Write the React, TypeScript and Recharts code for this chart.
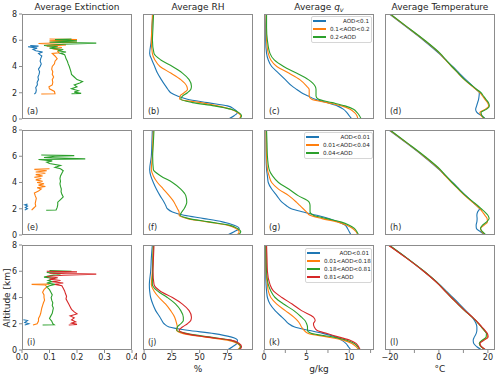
import { Line, LineChart, XAxis, YAxis } from "recharts";

const BLUE = "#1f77b4";
const ORANGE = "#ff7f0e";
const GREEN = "#2ca02c";
const RED = "#d62728";
const SERIES_COLORS = [BLUE, ORANGE, GREEN, RED];
const AXIS = "#8c8c8c";
const INK = "#262626";
const FONT = "'DejaVu Sans', sans-serif";

// altitude grid (km) used by the smooth RH / qv / temperature profiles
const ALT = [0, 0.25, 0.5, 0.75, 1, 1.25, 1.5, 1.75, 2, 2.25, 2.5, 3, 3.5, 4, 4.5, 5, 6, 7, 8];
const ALT_TICKS = [0, 2, 4, 6, 8];

// ---- row 1: AOD<0.1, 0.1<AOD<0.2, 0.2<AOD
const EXT1_BLUE_ALT = [1.9, 2.0, 2.2, 2.4, 2.6, 2.8, 3.0, 3.2, 3.4, 3.6, 3.8, 4.0, 4.2, 4.4, 4.6, 4.8, 4.9, 5.0, 5.1, 5.2, 5.3, 5.4, 5.5, 5.55, 5.6];
const EXT1_BLUE = [0.045, 0.05, 0.052, 0.05, 0.056, 0.055, 0.06, 0.058, 0.062, 0.064, 0.06, 0.066, 0.07, 0.066, 0.068, 0.072, 0.065, 0.06, 0.075, 0.05, 0.04, 0.055, 0.022, 0.06, 0.03];
const EXT1_ORANGE_ALT = [1.9, 1.92, 2.1, 2.3, 2.45, 2.6, 2.8, 3.0, 3.2, 3.4, 3.6, 3.8, 4.0, 4.2, 4.4, 4.6, 4.8, 5.0, 5.05, 5.15, 5.25, 5.35, 5.45, 5.55, 5.65, 5.75, 5.85, 5.95, 6.05, 6.1];
const EXT1_ORANGE = [0.07, 0.12, 0.118, 0.1, 0.098, 0.11, 0.112, 0.11, 0.115, 0.11, 0.112, 0.108, 0.11, 0.118, 0.12, 0.128, 0.12, 0.11, 0.135, 0.13, 0.14, 0.11, 0.145, 0.09, 0.16, 0.06, 0.2, 0.1, 0.2, 0.1];
const EXT1_GREEN_ALT = [1.92, 1.95, 2.05, 2.15, 2.3, 2.45, 2.6, 2.75, 2.85, 3.0, 3.2, 3.4, 3.6, 3.8, 4.0, 4.2, 4.4, 4.6, 4.75, 4.9, 5.0, 5.1, 5.2, 5.3, 5.4, 5.5, 5.6, 5.7, 5.78, 5.85, 5.95, 6.05, 6.1];
const EXT1_GREEN = [0.18, 0.215, 0.19, 0.205, 0.18, 0.2, 0.19, 0.21, 0.22, 0.2, 0.19, 0.18, 0.178, 0.175, 0.172, 0.168, 0.165, 0.16, 0.158, 0.155, 0.14, 0.16, 0.13, 0.15, 0.1, 0.13, 0.08, 0.15, 0.27, 0.1, 0.2, 0.12, 0.18];

const RH1_BLUE = [76, 81, 84, 81, 75, 57, 39, 30, 24, 21.5, 19.4, 15.5, 12, 9.5, 7, 5, 6.5, 7, 8];
const RH1_ORANGE = [85.5, 87, 84, 78, 66, 51, 32, 32.3, 36, 39, 38.4, 33, 24, 14.3, 9.7, 7.4, 6.5, 7, 7.5];
const RH1_GREEN = [86, 87.7, 85, 78, 63, 43.5, 33, 34.5, 39, 42, 42.6, 40.5, 34.5, 25.5, 15, 8.9, 7.5, 8, 8.5];

const QV1_BLUE = [10.3, 10, 9.7, 9.3, 8.6, 7.4, 6, 5.2, 4.4, 3.85, 3.3, 2.5, 1.7, 0.9, 0.5, 0.3, 0.2, 0.2, 0.25];
const QV1_ORANGE = [11, 10.9, 10.6, 10.1, 9.1, 7.4, 5.6, 5.3, 5.3, 5.3, 5.0, 4.2, 2.9, 1.5, 0.8, 0.5, 0.3, 0.25, 0.25];
const QV1_GREEN = [11.4, 11.2, 10.9, 10.5, 9.5, 8.0, 6.4, 6.1, 6.1, 6.1, 6.0, 5.2, 3.8, 2.3, 1.2, 0.7, 0.4, 0.3, 0.3];

const T1_BLUE = [19, 17.5, 15.5, 15, 15.4, 15.8, 16.2, 16.4, 16.5, 15.2, 13.8, 11, 8.3, 5.6, 2.8, 0, -6.3, -13.2, -20.2];
const T1_ORANGE = [18.7, 17.3, 16.7, 19, 20.3, 19.8, 18.8, 17.8, 16.8, 15.2, 13.5, 10.4, 7.8, 5.2, 2.7, 0.3, -6, -13, -20];
const T1_GREEN = [19, 17.6, 17.2, 19.5, 20.6, 20.2, 19.2, 18.2, 17.2, 15.5, 13.8, 10.5, 7.9, 5.3, 2.9, 0.5, -5.8, -12.8, -19.8];

// ---- row 2: AOD<0.01, 0.01<AOD<0.04, 0.04<AOD
const EXT2_BLUE_ALT = [1.9, 2.0, 2.1, 2.2, 2.3, 2.35];
const EXT2_BLUE = [0.01, 0.02, 0.012, 0.02, 0.01, 0.02];
const EXT2_ORANGE_ALT = [1.9, 2.0, 2.2, 2.4, 2.6, 2.8, 3.0, 3.2, 3.35, 3.5, 3.6, 3.7, 3.8, 3.9, 4.0, 4.1, 4.2, 4.3, 4.4, 4.5, 4.6, 4.7, 4.8, 4.9, 5.0, 5.05];
const EXT2_ORANGE = [0.035, 0.04, 0.05, 0.048, 0.05, 0.052, 0.048, 0.045, 0.06, 0.07, 0.055, 0.085, 0.06, 0.08, 0.055, 0.075, 0.05, 0.07, 0.045, 0.075, 0.05, 0.085, 0.05, 0.09, 0.045, 0.1];
const EXT2_GREEN_ALT = [1.88, 1.9, 2.1, 2.3, 2.5, 2.7, 2.9, 3.1, 3.3, 3.5, 3.7, 3.9, 4.1, 4.3, 4.5, 4.7, 4.9, 5.05, 5.15, 5.3, 5.45, 5.55, 5.65, 5.75, 5.8, 5.9, 6.0, 6.05, 6.1];
const EXT2_GREEN = [0.088, 0.124, 0.128, 0.13, 0.13, 0.14, 0.15, 0.145, 0.142, 0.143, 0.14, 0.138, 0.14, 0.138, 0.14, 0.145, 0.15, 0.14, 0.12, 0.14, 0.1, 0.09, 0.11, 0.06, 0.23, 0.08, 0.12, 0.19, 0.07];

const RH2_BLUE = [75, 81, 85.6, 81, 70.5, 54, 36, 25.5, 21, 19.5, 18, 14.3, 11, 8.3, 6, 5, 6.5, 7, 7.4];
const RH2_ORANGE = [83.5, 85.6, 82.6, 75, 57, 39, 31.5, 31.5, 30, 28.5, 27, 22.5, 17.3, 12, 8.3, 6.5, 7.4, 7.8, 8.3];
const RH2_GREEN = [84.7, 87, 84, 76.6, 58.5, 40.5, 32.4, 33.9, 36, 37.5, 38.4, 37.5, 33, 25.5, 15, 8.3, 7.7, 8.3, 8.9];

const QV2_BLUE = [10.2, 10, 9.8, 9.5, 8.7, 7.6, 6.2, 4.6, 3.2, 2.6, 2.1, 1.5, 0.9, 0.5, 0.4, 0.3, 0.24, 0.24, 0.24];
const QV2_ORANGE = [11, 10.8, 10.4, 9.7, 8.6, 6.8, 5.4, 5.0, 4.6, 4.2, 3.8, 2.9, 1.7, 0.9, 0.6, 0.4, 0.3, 0.25, 0.24];
const QV2_GREEN = [11.1, 10.9, 10.6, 10, 9, 7.4, 5.8, 5.4, 5.4, 5.4, 5.3, 4.0, 2.9, 1.7, 1.0, 0.6, 0.4, 0.35, 0.3];

const T2_BLUE = [19, 17, 15.3, 15.2, 15.5, 15.6, 15.5, 15.8, 16.6, 15.3, 13.8, 11, 8.3, 5.6, 2.8, 0, -6.3, -13.2, -20.4];
const T2_ORANGE = [18.8, 17.5, 17, 18.5, 19.8, 19.7, 18.8, 17.8, 16.8, 15.3, 13.7, 10.6, 7.9, 5.2, 2.6, 0.2, -6.1, -13, -20.2];
const T2_GREEN = [19.2, 17.8, 17, 17.8, 19.5, 20.5, 20, 18.8, 17.3, 15.8, 14.1, 10.9, 8.1, 5.4, 2.9, 0.5, -5.8, -12.8, -19.9];

// ---- row 3: AOD<0.01, 0.01<AOD<0.18, 0.18<AOD<0.81, 0.81<AOD
const EXT3_BLUE_ALT = [1.9, 2.0, 2.1, 2.25, 2.3];
const EXT3_BLUE = [0.01, 0.025, 0.01, 0.02, 0.005];
const EXT3_ORANGE_ALT = [1.9, 2.0, 2.2, 2.4, 2.6, 2.8, 3.0, 3.2, 3.4, 3.6, 3.8, 4.0, 4.2, 4.4, 4.6, 4.8, 4.95, 5.0, 5.02];
const EXT3_ORANGE = [0.04, 0.055, 0.06, 0.06, 0.065, 0.068, 0.07, 0.072, 0.075, 0.078, 0.082, 0.08, 0.08, 0.075, 0.08, 0.09, 0.085, 0.035, 0.1];
const EXT3_GREEN_ALT = [1.9, 1.92, 2.0, 2.2, 2.4, 2.6, 2.8, 3.0, 3.2, 3.4, 3.6, 3.8, 4.0, 4.2, 4.4, 4.6, 4.8, 4.9, 5.0, 5.1, 5.2, 5.3, 5.45, 5.55, 5.65, 5.8, 5.9, 6.0, 6.05];
const EXT3_GREEN = [0.075, 0.117, 0.112, 0.108, 0.1, 0.105, 0.11, 0.112, 0.114, 0.11, 0.112, 0.108, 0.106, 0.11, 0.105, 0.1, 0.09, 0.1, 0.12, 0.09, 0.11, 0.095, 0.12, 0.08, 0.1, 0.14, 0.09, 0.18, 0.1];
const EXT3_RED_ALT = [1.9, 1.95, 2.05, 2.15, 2.3, 2.45, 2.6, 2.75, 2.9, 3.1, 3.3, 3.5, 3.7, 3.9, 4.1, 4.3, 4.5, 4.7, 4.9, 5.0, 5.1, 5.2, 5.3, 5.4, 5.5, 5.6, 5.7, 5.78, 5.85, 5.95, 6.0];
const EXT3_RED = [0.17, 0.2, 0.18, 0.195, 0.18, 0.19, 0.175, 0.2, 0.19, 0.18, 0.175, 0.17, 0.165, 0.16, 0.162, 0.158, 0.155, 0.15, 0.145, 0.12, 0.15, 0.11, 0.14, 0.1, 0.13, 0.09, 0.15, 0.27, 0.1, 0.2, 0.09];

const RH3_BLUE = [75, 79.6, 83.5, 84, 78, 63, 39, 22.5, 18, 16, 14.3, 10.4, 7.8, 5.9, 5, 4.7, 5.9, 6.5, 7.4];
const RH3_ORANGE = [84, 86.5, 84, 75, 54, 35.3, 29.3, 29.9, 29.3, 28.5, 27.5, 23.9, 19.4, 13.4, 8.9, 6.5, 7.4, 7.8, 8.3];
const RH3_GREEN = [84.7, 87, 84.6, 78, 58.5, 39, 29.3, 29.9, 33, 35.3, 35.3, 33, 28.4, 20.9, 12, 7.4, 7.7, 8, 8.3];
const RH3_RED = [85.6, 87.7, 85.6, 78, 55.5, 37.5, 31.5, 34.5, 39, 42, 42.6, 40.5, 34.5, 25.5, 14.3, 8.9, 8, 8.4, 8.9];

const QV3_BLUE = [10.2, 9.9, 9.6, 9.1, 8.4, 7.0, 5.2, 3.6, 2.9, 2.5, 2.1, 1.3, 0.7, 0.4, 0.3, 0.24, 0.2, 0.2, 0.2];
const QV3_ORANGE = [11.1, 10.8, 10.3, 9.3, 7.4, 5.2, 4.7, 4.4, 4.2, 3.9, 3.5, 2.5, 1.5, 0.8, 0.5, 0.4, 0.24, 0.24, 0.24];
const QV3_GREEN = [11.2, 11, 10.6, 9.7, 8.0, 5.6, 5.1, 5.1, 5.0, 4.8, 4.4, 3.5, 2.3, 1.3, 0.8, 0.5, 0.3, 0.25, 0.24];
const QV3_RED = [11.3, 11.1, 10.8, 10.1, 8.7, 7.4, 6.2, 5.9, 5.8, 6.0, 5.8, 4.4, 3.3, 2.1, 1.1, 0.7, 0.4, 0.35, 0.3];

const T3_BLUE = [17.5, 15.5, 14.2, 14, 14.5, 15.2, 15.5, 15.5, 15.2, 14.5, 13.5, 11, 8.4, 5.7, 2.9, 0.2, -6.2, -13.1, -20.5];
const T3_ORANGE = [19, 17.2, 16.5, 18, 19.8, 19.6, 18.5, 17.4, 16.2, 15, 13.6, 10.6, 7.8, 5.1, 2.5, 0, -6.2, -13.2, -20.6];
const T3_GREEN = [19, 17.2, 16.5, 17.7, 19.3, 19.4, 18.5, 17.4, 16.2, 15, 13.6, 10.5, 7.8, 5.1, 2.5, 0, -6, -13, -20.3];
const T3_RED = [19.2, 17.4, 16.8, 18.5, 20.1, 19.8, 18.8, 17.6, 16.4, 15.1, 13.7, 10.6, 7.8, 5.1, 2.4, -0.1, -6.2, -13.2, -20.7];

const LEGEND1 = ["AOD<0.1", "0.1<AOD<0.2", "0.2<AOD"];
const LEGEND2 = ["AOD<0.01", "0.01<AOD<0.04", "0.04<AOD"];
const LEGEND3 = ["AOD<0.01", "0.01<AOD<0.18", "0.18<AOD<0.81", "0.81<AOD"];

type Point = { alt: number; v: number };
const prof = (alts: number[], vals: number[]): Point[] => alts.map((alt, i) => ({ alt, v: vals[i] }));

const PLOT_W = 110;
const PLOT_H = 105;
const ROW_TOPS = [14, 130, 245];

const minus = (v: number) => (v < 0 ? `\u2212${-v}` : String(v));

const COLS = [
  { left: 22, domain: [0, 0.4], ticks: [0, 0.1, 0.2, 0.3, 0.4], fmt: (v: number) => v.toFixed(1) },
  { left: 143, domain: [-1, 98], ticks: [0, 25, 50, 75], fmt: (v: number) => String(v) },
  { left: 264, domain: [0, 12.9], ticks: [0, 2.5, 5, 7.5, 10, 12.5], fmt: (v: number) => (v % 5 === 0 ? String(v) : "") },
  { left: 385, domain: [-22, 22.9], ticks: [-20, -10, 0, 10, 20], fmt: (v: number) => (v % 20 === 0 ? minus(v) : "") },
];

const ROWS = [
  {
    panels: [
      [prof(EXT1_BLUE_ALT, EXT1_BLUE), prof(EXT1_ORANGE_ALT, EXT1_ORANGE), prof(EXT1_GREEN_ALT, EXT1_GREEN)],
      [prof(ALT, RH1_BLUE), prof(ALT, RH1_ORANGE), prof(ALT, RH1_GREEN)],
      [prof(ALT, QV1_BLUE), prof(ALT, QV1_ORANGE), prof(ALT, QV1_GREEN)],
      [prof(ALT, T1_BLUE), prof(ALT, T1_ORANGE), prof(ALT, T1_GREEN)],
    ],
    letters: ["(a)", "(b)", "(c)", "(d)"],
    legend: LEGEND1,
    legendBox: { left: 311, top: 16, width: 61 },
  },
  {
    panels: [
      [prof(EXT2_BLUE_ALT, EXT2_BLUE), prof(EXT2_ORANGE_ALT, EXT2_ORANGE), prof(EXT2_GREEN_ALT, EXT2_GREEN)],
      [prof(ALT, RH2_BLUE), prof(ALT, RH2_ORANGE), prof(ALT, RH2_GREEN)],
      [prof(ALT, QV2_BLUE), prof(ALT, QV2_ORANGE), prof(ALT, QV2_GREEN)],
      [prof(ALT, T2_BLUE), prof(ALT, T2_ORANGE), prof(ALT, T2_GREEN)],
    ],
    letters: ["(e)", "(f)", "(g)", "(h)"],
    legend: LEGEND2,
    legendBox: { left: 304, top: 132, width: 69 },
  },
  {
    panels: [
      [prof(EXT3_BLUE_ALT, EXT3_BLUE), prof(EXT3_ORANGE_ALT, EXT3_ORANGE), prof(EXT3_GREEN_ALT, EXT3_GREEN), prof(EXT3_RED_ALT, EXT3_RED)],
      [prof(ALT, RH3_BLUE), prof(ALT, RH3_ORANGE), prof(ALT, RH3_GREEN), prof(ALT, RH3_RED)],
      [prof(ALT, QV3_BLUE), prof(ALT, QV3_ORANGE), prof(ALT, QV3_GREEN), prof(ALT, QV3_RED)],
      [prof(ALT, T3_BLUE), prof(ALT, T3_ORANGE), prof(ALT, T3_GREEN), prof(ALT, T3_RED)],
    ],
    letters: ["(i)", "(j)", "(k)", "(l)"],
    legend: LEGEND3,
    legendBox: { left: 305, top: 248, width: 67 },
  },
];

const tickStyle = { fontSize: 8, fill: INK, fontFamily: FONT };

function Panel({ col, row, series, letter }: { col: number; row: number; series: Point[][]; letter: string }) {
  const c = COLS[col];
  const top = ROW_TOPS[row];
  const bottomRow = row === ROW_TOPS.length - 1;
  return (
    <>
      <div style={{ position: "absolute", left: c.left - 25, top: top - 5 }}>
        <LineChart
          layout="vertical"
          width={PLOT_W + 30}
          height={PLOT_H + 25}
          margin={{ top: 5, right: 5, bottom: 0, left: 0 }}
        >
          <XAxis
            type="number"
            domain={c.domain}
            ticks={c.ticks}
            allowDataOverflow
            interval={0}
            height={20}
            axisLine={false}
            tickLine={{ stroke: AXIS }}
            tickSize={3}
            tickMargin={1}
            tick={bottomRow ? tickStyle : false}
            tickFormatter={c.fmt}
          />
          <YAxis
            type="number"
            dataKey="alt"
            domain={[0, 8]}
            ticks={ALT_TICKS}
            reversed
            allowDataOverflow
            interval={0}
            width={25}
            axisLine={false}
            tickLine={{ stroke: AXIS }}
            tickSize={3}
            tickMargin={2}
            tick={col === 0 ? tickStyle : false}
          />
          {series.map((s, i) => (
            <Line
              key={i}
              data={s}
              dataKey="v"
              type={col === 0 ? "linear" : "monotone"}
              stroke={SERIES_COLORS[i]}
              strokeWidth={1.1}
              dot={false}
              activeDot={false}
              isAnimationActive={false}
            />
          ))}
        </LineChart>
      </div>
      <div
        style={{
          position: "absolute",
          left: c.left,
          top,
          width: PLOT_W,
          height: PLOT_H,
          border: `1px solid ${AXIS}`,
          boxSizing: "border-box",
          pointerEvents: "none",
        }}
      />
      <div
        style={{
          position: "absolute",
          left: c.left + 5,
          top: top + PLOT_H - 13,
          fontSize: 8,
          lineHeight: "12px",
          color: INK,
        }}
      >
        {letter}
      </div>
    </>
  );
}

function LegendBox({ labels, left, top, width }: { labels: string[]; left: number; top: number; width: number }) {
  return (
    <div
      style={{
        position: "absolute",
        left,
        top,
        width,
        boxSizing: "border-box",
        border: "1px solid #d6d6d6",
        borderRadius: 2,
        background: "rgba(255,255,255,0.85)",
        padding: "0 2px 1px 1px",
        fontSize: 5.6,
        lineHeight: "8px",
        color: INK,
      }}
    >
      {labels.map((label, i) => (
        <div key={label + i} style={{ display: "flex", alignItems: "center", height: 8 }}>
          <span style={{ width: 13, height: 1.5, background: SERIES_COLORS[i], marginRight: 4, flexShrink: 0 }} />
          <span style={{ flex: 1, textAlign: i === 0 ? "right" : "left", whiteSpace: "nowrap" }}>{label}</span>
        </div>
      ))}
    </div>
  );
}

const TITLES = [
  <>Average Extinction</>,
  <>Average RH</>,
  <>
    Average <i>q</i>
    <i style={{ fontSize: 6.5, position: "relative", top: 2 }}>v</i>
  </>,
  <>Average Temperature</>,
];

const X_LABELS = ["", "%", "g/kg", "\u00b0C"];

export default function App() {
  return (
    <div
      style={{
        position: "absolute",
        left: 0,
        top: 0,
        width: 500,
        height: 377,
        background: "#fff",
        fontFamily: FONT,
        overflow: "hidden",
      }}
    >
      {COLS.map((c, i) => (
        <div
          key={`t${i}`}
          style={{
            position: "absolute",
            left: c.left - 10,
            top: 1,
            width: PLOT_W + 20,
            textAlign: "center",
            fontSize: 9,
            lineHeight: "13px",
            color: INK,
            whiteSpace: "nowrap",
          }}
        >
          {TITLES[i]}
        </div>
      ))}
      {ROWS.map((r, ri) =>
        r.panels.map((series, ci) => (
          <Panel key={`${ri}-${ci}`} col={ci} row={ri} series={series} letter={r.letters[ci]} />
        ))
      )}
      {ROWS.map((r, ri) => (
        <LegendBox key={`l${ri}`} labels={r.legend} {...r.legendBox} />
      ))}
      {COLS.map((c, i) =>
        X_LABELS[i] ? (
          <div
            key={`x${i}`}
            style={{
              position: "absolute",
              left: c.left,
              top: 363,
              width: PLOT_W,
              textAlign: "center",
              fontSize: 9,
              lineHeight: "12px",
              color: INK,
            }}
          >
            {X_LABELS[i]}
          </div>
        ) : null
      )}
      <div
        style={{
          position: "absolute",
          left: 7,
          top: 298,
          transform: "translate(-50%, -50%) rotate(-90deg)",
          fontSize: 9,
          lineHeight: "12px",
          color: INK,
          whiteSpace: "nowrap",
        }}
      >
        Altitude [km]
      </div>
    </div>
  );
}
